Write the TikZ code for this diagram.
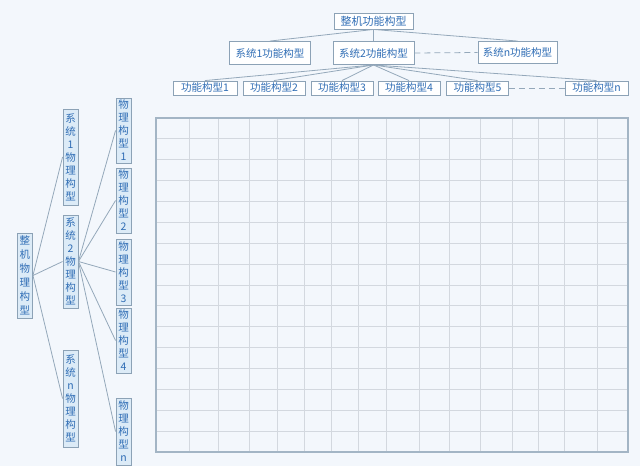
\documentclass[tikz,border=0pt]{standalone}
\usepackage{fontspec}
\newfontfamily\cjk{Noto Sans CJK SC}
\usepackage{tikz}
\usetikzlibrary{calc}

\definecolor{bgblue}{HTML}{F3F7FC}
\definecolor{txtblue}{HTML}{2F6DB5}
\definecolor{boxgray}{HTML}{8CA2B6}
\definecolor{linkgray}{HTML}{94A8BA}
\definecolor{gridgray}{HTML}{D3D8DF}
\definecolor{vfill}{HTML}{DCEBF7}

\begin{document}
\begin{tikzpicture}[x=1pt,y=-1pt]
		\tikzstyle{every node}=[font=\cjk\fontsize{10.5}{13}\selectfont, text=txtblue]
		\tikzstyle{hbox}=[draw=boxgray, fill=white, line width=0.9pt, inner sep=0pt]
		\tikzstyle{vbox}=[draw=boxgray, fill=vfill, line width=0.9pt, inner sep=0pt, align=center, minimum width=15pt]
		\tikzstyle{link}=[draw=linkgray, line width=0.8pt]
		
		\fill [bgblue] (0,0) rectangle (640,466);
		
		% grid
		\foreach \gx in {189,218,249,277,304,331,358,386,419,449,480,512,538,564,597}
		\draw [gridgray, line width=0.8pt] (\gx,118) -- (\gx,452);
		\foreach \gy in {1,...,15}
		\draw [gridgray, line width=0.8pt] (156,118+\gy*20.875) -- (628,118+\gy*20.875);
		\draw [draw=boxgray!80, line width=1.1pt] (156,118) rectangle (628,452);
		
		% functional tree
		\node [hbox, minimum width=79pt, minimum height=16pt, font=\cjk\fontsize{11}{13}\selectfont] (fa) at (373.5,21) {整机功能构型};
		\node [hbox, minimum width=81pt, minimum height=23pt] (fs1) at (270,53) {系统1功能构型};
		\node [hbox, minimum width=81pt, minimum height=23pt] (fs2) at (373.5,53) {系统2功能构型};
		\node [hbox, minimum width=79pt, minimum height=22pt] (fsn) at (517.5,52.5) {系统n功能构型};
		
		\node [hbox, minimum width=64pt, minimum height=14pt] (fm1) at (205,88) {功能构型1};
		\node [hbox, minimum width=62pt, minimum height=14pt] (fm2) at (274,88) {功能构型2};
		\node [hbox, minimum width=62pt, minimum height=14pt] (fm3) at (342,88) {功能构型3};
		\node [hbox, minimum width=62pt, minimum height=14pt] (fm4) at (409,88) {功能构型4};
		\node [hbox, minimum width=62pt, minimum height=14pt] (fm5) at (477.5,88) {功能构型5};
		\node [hbox, minimum width=63pt, minimum height=14pt] (fmn) at (596.5,88) {功能构型n};
		
		\foreach \s in {fs1,fs2,fsn}
		\draw [link] (fa.south) -- (\s.north);
		\foreach \m in {fm1,fm2,fm3,fm4,fm5,fmn}
		\draw [link] (fs2.south) -- (\m.north);
		\draw [link, dashed, dash pattern=on 6pt off 4pt] (fs2.east) -- (fsn.west);
		\draw [link, dashed, dash pattern=on 6pt off 4pt] (fm5.east) -- (fmn.west);
		
		% physical tree
		\node [vbox, minimum height=85pt, font=\cjk\fontsize{10.5}{14}\selectfont] (pa) at (25,275.5) {整\\机\\物\\理\\构\\型};
		\node [vbox, minimum height=96pt] (ps1) at (70.5,157) {系\\统\\1\\物\\理\\构\\型};
		\node [vbox, minimum height=93pt] (ps2) at (70.5,261.5) {系\\统\\2\\物\\理\\构\\型};
		\node [vbox, minimum height=97pt] (psn) at (70.5,398.5) {系\\统\\n\\物\\理\\构\\型};
		
		\node [vbox, minimum height=65pt] (pm1) at (123.5,130.5) {物\\理\\构\\型\\1};
		\node [vbox, minimum height=65pt] (pm2) at (123.5,200.5) {物\\理\\构\\型\\2};
		\node [vbox, minimum height=66pt] (pm3) at (123.5,272) {物\\理\\构\\型\\3};
		\node [vbox, minimum height=65pt] (pm4) at (123.5,340.5) {物\\理\\构\\型\\4};
		\node [vbox, minimum height=67pt] (pmn) at (123.5,431.5) {物\\理\\构\\型\\n};
		
		\foreach \s in {ps1,ps2,psn}
		\draw [link] (pa.east) -- (\s.west);
		\foreach \m in {pm1,pm2,pm3,pm4,pmn}
		\draw [link] (ps2.east) -- (\m.west);
		
		\useasboundingbox (0,0) rectangle (640,466);
	\end{tikzpicture}
\end{document}
